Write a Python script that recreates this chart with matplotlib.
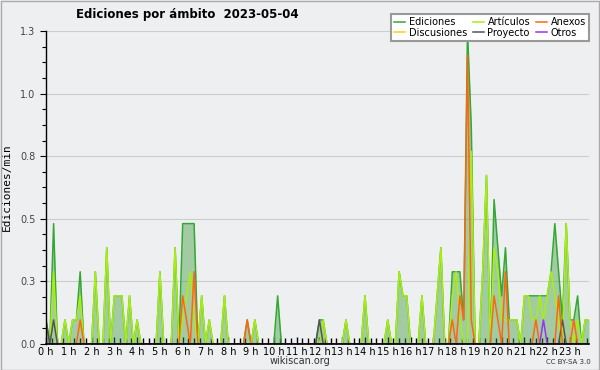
import numpy as np
import matplotlib.pyplot as plt
from matplotlib.ticker import MultipleLocator
from matplotlib.patches import Rectangle

# edits per 10-minute bin, 144 bins (00:00 .. 23:50), 12 bins per row = 2 hours
ediciones = [
    1, 0, 5, 0, 0, 1, 0, 1, 1, 3, 0, 0,
    0, 3, 0, 0, 4, 0, 2, 2, 2, 0, 2, 0,
    1, 0, 0, 0, 0, 0, 3, 0, 0, 0, 4, 0,
    5, 5, 5, 5, 0, 2, 0, 1, 0, 0, 0, 2,
    0, 0, 0, 0, 0, 1, 0, 1, 0, 0, 0, 0,
    0, 2, 0, 0, 0, 0, 0, 0, 0, 0, 0, 0,
    1, 1, 0, 0, 0, 0, 0, 1, 0, 0, 0, 0,
    2, 0, 0, 0, 0, 0, 1, 0, 0, 3, 2, 2,
    0, 0, 0, 2, 0, 0, 0, 2, 4, 0, 0, 3,
    3, 3, 1, 13, 9, 0, 0, 3, 7, 0, 6, 4,
    2, 4, 1, 1, 1, 0, 2, 2, 2, 2, 2, 2,
    2, 3, 5, 3, 1, 5, 1, 1, 2, 0, 1, 1,
]
articulos = [
    0, 0, 3, 0, 0, 1, 0, 1, 1, 2, 0, 0,
    0, 3, 0, 0, 4, 0, 2, 2, 2, 0, 2, 0,
    1, 0, 0, 0, 0, 0, 3, 0, 0, 0, 4, 0,
    1, 2, 3, 1, 0, 2, 0, 1, 0, 0, 0, 2,
    0, 0, 0, 0, 0, 0, 0, 1, 0, 0, 0, 0,
    0, 0, 0, 0, 0, 0, 0, 0, 0, 0, 0, 0,
    0, 1, 0, 0, 0, 0, 0, 1, 0, 0, 0, 0,
    2, 0, 0, 0, 0, 0, 1, 0, 0, 3, 2, 2,
    0, 0, 0, 2, 0, 0, 0, 2, 4, 0, 0, 2,
    3, 1, 0, 0, 8, 0, 0, 3, 7, 0, 4, 3,
    1, 1, 1, 1, 1, 0, 2, 2, 1, 1, 2, 1,
    2, 3, 2, 1, 0, 5, 1, 0, 1, 0, 1, 1,
]
anexos = [
    0, 0, 0, 0, 0, 0, 0, 0, 0, 1, 0, 0,
    0, 0, 0, 0, 0, 0, 0, 0, 0, 0, 0, 0,
    0, 0, 0, 0, 0, 0, 0, 0, 0, 0, 0, 0,
    2, 1, 0, 3, 0, 0, 0, 0, 0, 0, 0, 0,
    0, 0, 0, 0, 0, 1, 0, 0, 0, 0, 0, 0,
    0, 0, 0, 0, 0, 0, 0, 0, 0, 0, 0, 0,
    0, 0, 0, 0, 0, 0, 0, 0, 0, 0, 0, 0,
    0, 0, 0, 0, 0, 0, 0, 0, 0, 0, 0, 0,
    0, 0, 0, 0, 0, 0, 0, 0, 0, 0, 0, 1,
    0, 2, 1, 12, 1, 0, 0, 0, 0, 0, 2, 1,
    0, 3, 0, 0, 0, 0, 0, 0, 0, 1, 0, 0,
    0, 0, 0, 2, 0, 0, 0, 1, 0, 0, 0, 0,
]
discusiones = [0] * 144
proyecto = [0] * 144
proyecto[0] = 1
proyecto[2] = 1
proyecto[72] = 1
proyecto[136] = 1
otros = [0] * 144
otros[131] = 1

hours = list(range(24))
hour_labels = [f'{h} h' for h in hours]

bg = '#eeeff0'
t = np.arange(144) / 6.0

fig = plt.figure(figsize=(6, 3.7), dpi=100, facecolor=bg)
ax = fig.add_axes([46/600, 26/370, 543/600, 313/370])
ax.set_facecolor(bg)

tot = np.array(ediciones) / 10
ax.fill_between(t, tot, color='#3a9a3a', alpha=0.42, lw=0)
ax.plot(t, tot, color='#33a833', lw=1.1, label='Ediciones')
ax.plot(t, np.array(discusiones) / 10, color='#ffcc22', lw=1.1, label='Discusiones')
ax.plot(t, np.array(articulos) / 10, color='#aaee11', lw=1.1, label='Artículos')
ax.plot(t, np.array(proyecto) / 10, color='#555555', lw=1.1, label='Proyecto')
ax.plot(t, np.array(anexos) / 10, color='#ff6611', lw=1.1, label='Anexos')
ax.plot(t, np.array(otros) / 10, color='#9933ee', lw=1.1, label='Otros')

ax.set_xlim(0, 143 / 6)
ax.set_ylim(0, 1.3)
yt = np.linspace(0, 1.3, 6)
ax.set_yticks(yt)
ax.set_yticklabels([f'{v:.1f}' for v in yt])
ax.yaxis.set_minor_locator(MultipleLocator(0.26 / 4))
ax.set_xticks(hours)
ax.set_xticklabels(hour_labels)
ax.xaxis.set_minor_locator(MultipleLocator(1 / 4))
ax.tick_params(axis='x', direction='in', length=5, width=1, labelsize=7, pad=2)
ax.tick_params(axis='x', which='minor', direction='in', length=4, width=1)
ax.tick_params(axis='y', direction='out', length=4, width=0.8, labelsize=7, labelcolor='#444444')
ax.tick_params(axis='y', which='minor', direction='out', length=3, width=0.8)
ax.grid(axis='y', color='#cccccc', lw=0.8)
ax.set_axisbelow(True)
for s in ['top', 'right']:
    ax.spines[s].set_visible(False)
ax.spines['left'].set_linewidth(1)
ax.spines['bottom'].set_linewidth(1.2)

ax.set_ylabel('Ediciones/min', family='DejaVu Sans Mono', fontsize=8, labelpad=6)

fig.text(0.313, 0.962, 'Ediciones por ámbito  2023-05-04', ha='center', va='center',
         fontsize=8.5, fontweight='bold')
fig.text(0.5, 0.024, 'wikiscan.org', ha='center', va='center', fontsize=7, color='#333333')
fig.text(0.985, 0.022, 'CC BY-SA 3.0', ha='right', va='center', fontsize=5, color='#333333')

leg = ax.legend(ncol=3, loc='upper right', bbox_to_anchor=(594/600, 1 - 9/370),
                bbox_transform=fig.transFigure, fontsize=7, handlelength=1.1,
                handletextpad=0.4, columnspacing=0.6, labelspacing=0.05,
                borderpad=0.35, fancybox=False, shadow=False, framealpha=1,
                edgecolor='#999999')
leg.get_frame().set_linewidth(1.5)

fig.patches.append(Rectangle((0.001, 0.001), 0.998, 0.997, transform=fig.transFigure,
                             fill=False, edgecolor='#aaaaaa', lw=1))

fig.savefig('out.png', dpi=100, facecolor=bg)
